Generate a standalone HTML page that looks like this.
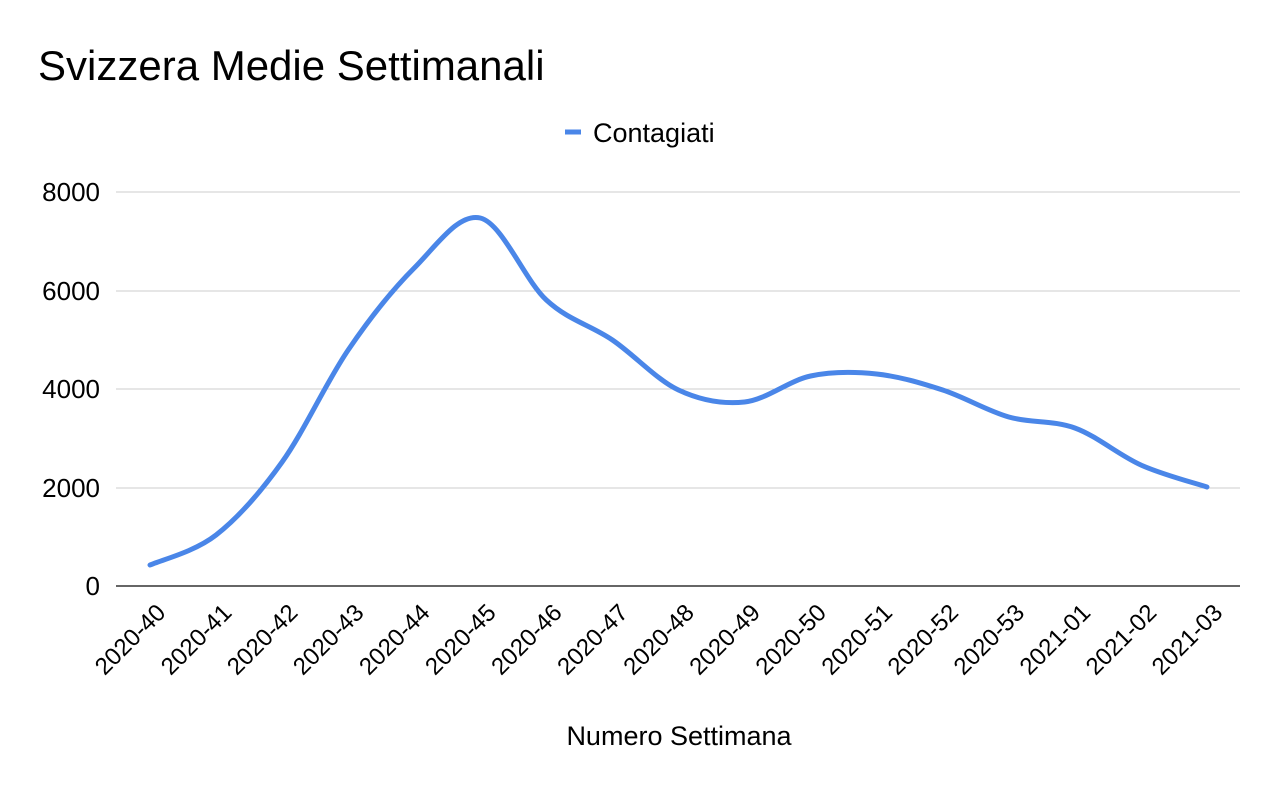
<!DOCTYPE html><html><head><style>body{margin:0;background:#fff}</style></head><body>
<svg width="1280" height="791" xmlns="http://www.w3.org/2000/svg" font-family="Liberation Sans, sans-serif">
<rect width="1280" height="791" fill="#fff"/>
<text x="38" y="80" font-size="42" fill="#000">Svizzera Medie Settimanali</text>
<line x1="565" y1="132" x2="581" y2="132" stroke="#4a86e8" stroke-width="5"/>
<text x="593" y="142" font-size="27" fill="#000">Contagiati</text>
<g stroke="#ccc" stroke-width="1">
<line x1="116" y1="192" x2="1240" y2="192"/><line x1="116" y1="291" x2="1240" y2="291"/>
<line x1="116" y1="389" x2="1240" y2="389"/><line x1="116" y1="488" x2="1240" y2="488"/></g>
<line x1="116" y1="586" x2="1240" y2="586" stroke="#333" stroke-width="1.5"/>
<g font-size="26" text-anchor="end" fill="#000">
<text x="100" y="201">8000</text><text x="100" y="300">6000</text><text x="100" y="398">4000</text><text x="100" y="497">2000</text><text x="100" y="595">0</text></g>
<path id="p" fill="none" stroke="#4a86e8" stroke-width="5" stroke-linecap="round"/>
<g id="lbl" font-size="24" text-anchor="end" fill="#000"></g>
<text x="679" y="745" font-size="27" text-anchor="middle" fill="#000">Numero Settimana</text>
</svg>
<script>
var ys=[565,535,462,350,268,218,300,340,390,402,376,374,390,417,428,465,487];
var labs=["2020-40","2020-41","2020-42","2020-43","2020-44","2020-45","2020-46","2020-47","2020-48","2020-49","2020-50","2020-51","2020-52","2020-53","2021-01","2021-02","2021-03"];
var pts=ys.map(function(y,i){return[150+i*66.06,y]});
var d="M"+pts[0][0]+","+pts[0][1];
for(var i=0;i<pts.length-1;i++){var p0=pts[Math.max(0,i-1)],p1=pts[i],p2=pts[i+1],p3=pts[Math.min(pts.length-1,i+2)];
d+=" C"+(p1[0]+(p2[0]-p0[0])/6)+","+(p1[1]+(p2[1]-p0[1])/6)+" "+(p2[0]-(p3[0]-p1[0])/6)+","+(p2[1]-(p3[1]-p1[1])/6)+" "+p2[0]+","+p2[1];}
document.getElementById("p").setAttribute("d",d);
var g=document.getElementById("lbl"),s="";
pts.forEach(function(p,i){s+='<text transform="translate('+(p[0]+17)+',614) rotate(-45)">'+labs[i]+'</text>';});
g.innerHTML=s;
</script>
</body></html>
